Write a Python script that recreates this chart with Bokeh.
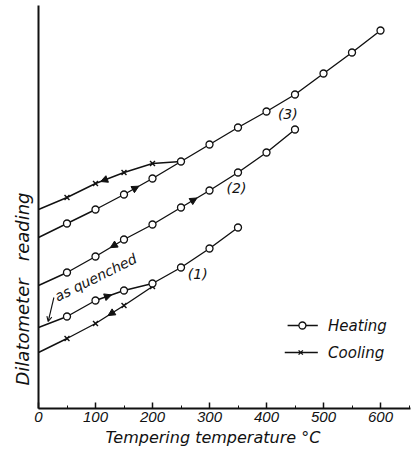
import numpy as np
from bokeh.plotting import figure
from bokeh.models import Label, Arrow, NormalHead, OpenHead, FixedTicker, Title
from bokeh.embed import file_html
from bokeh.resources import INLINE

# ---- data (reading in arbitrary units) ----
temps3_heat = [0, 50, 100, 150, 200, 250, 300, 350, 400, 450, 500, 550, 600]
read3_heat = [17.1, 18.5, 19.9, 21.4, 23.0, 24.7, 26.4, 28.1, 29.7, 31.4, 33.5, 35.6, 37.8]
temps3_cool = [0, 50, 100, 150, 200, 250]
read3_cool = [19.9, 21.1, 22.5, 23.6, 24.5, 24.7]
temps2 = [0, 50, 100, 150, 200, 250, 300, 350, 400, 450]
read2 = [12.3, 13.6, 15.2, 16.9, 18.4, 20.1, 21.8, 23.6, 25.6, 27.9]
temps1_heat = [0, 50, 100, 150, 200, 250, 300, 350]
read1_heat = [8.1, 9.2, 10.8, 11.8, 12.5, 14.1, 16.0, 18.1]
temps1_cool = [0, 50, 100, 150, 200]
read1_cool = [5.6, 7.0, 8.5, 10.3, 12.2]

x_ticks = [0, 100, 200, 300, 400, 500, 600]
x_minor = [50, 150, 250, 350, 450, 550, 650]

FONT = "DejaVu Sans"
BLACK = "#111111"

p = figure(width=412, height=451, x_range=(0, 652.6), y_range=(0, 40.3),
           output_backend="svg", toolbar_location=None,
           min_border_left=38, min_border_right=2, min_border_top=5, min_border_bottom=43)
p.outline_line_color = None
p.grid.visible = False
p.background_fill_color = "white"

# axes
p.xaxis.ticker = FixedTicker(ticks=x_ticks, minor_ticks=x_minor)
p.xaxis.axis_line_width = 2
p.xaxis.axis_line_color = BLACK
p.xaxis.major_tick_in = 6
p.xaxis.major_tick_out = 0
p.xaxis.minor_tick_in = 3
p.xaxis.minor_tick_out = 0
p.xaxis.major_tick_line_width = 1.5
p.xaxis.major_tick_line_color = BLACK
p.xaxis.minor_tick_line_color = BLACK
p.xaxis.major_label_text_font = "Liberation Sans"
p.xaxis.major_label_text_font_style = "italic"
p.xaxis.major_label_text_font_size = "15px"
p.xaxis.major_label_text_color = BLACK
p.xaxis.major_label_standoff = 3

p.yaxis.ticker = FixedTicker(ticks=[])
p.yaxis.axis_line_width = 2
p.yaxis.axis_line_color = BLACK
p.yaxis.major_tick_in = 0
p.yaxis.major_tick_out = 0
p.yaxis.minor_tick_in = 0
p.yaxis.minor_tick_out = 0


def series(tx, ty, marker, mark_slice):
    p.line(tx, ty, line_color=BLACK, line_width=1.4)
    xs = tx[mark_slice]
    ys = ty[mark_slice]
    if marker == "circle":
        p.scatter(xs, ys, marker="circle", size=7, fill_color="white",
                  line_color=BLACK, line_width=1.3)
    else:
        p.scatter(xs, ys, marker="x", size=7, line_color=BLACK, line_width=1.4)


series(temps3_cool, read3_cool, "x", slice(1, 5))
series(temps3_heat, read3_heat, "circle", slice(1, None))
series(temps2, read2, "circle", slice(1, None))
series(temps1_cool, read1_cool, "x", slice(1, None))
series(temps1_heat, read1_heat, "circle", slice(1, None))


def arrow_on(tx, ty, t, direction):
    y0 = float(np.interp(t, tx, ty))
    t1 = t + direction * 6
    y1 = float(np.interp(t1, tx, ty))
    p.add_layout(Arrow(end=NormalHead(size=7, fill_color=BLACK, line_color=BLACK),
                       x_start=t, y_start=y0, x_end=t1, y_end=y1,
                       line_color=BLACK, line_width=1.2))


arrow_on(temps3_heat, read3_heat, 170, 1)
arrow_on(temps3_cool, read3_cool, 115, -1)
arrow_on(temps2, read2, 272, 1)
arrow_on(temps2, read2, 132, -1)
arrow_on(temps1_heat, read1_heat, 122, 1)
arrow_on(temps1_cool, read1_cool, 128, -1)

# "as quenched" annotation
p.add_layout(Label(x=36, y=10.4, text="as quenched", angle=0.46,
                   text_font=FONT, text_font_style="italic", text_font_size="14px",
                   text_color=BLACK, text_align="left", text_baseline="bottom"))
p.add_layout(Arrow(end=OpenHead(size=5, line_color=BLACK, line_width=1.1),
                   x_start=27, y_start=11.1, x_end=17, y_end=8.7,
                   line_color=BLACK, line_width=1.1))

# curve labels
for txt, lx, ly in [("(3)", 420, 29.5), ("(2)", 330, 22.1), ("(1)", 262, 13.5)]:
    p.add_layout(Label(x=lx, y=ly, text=txt, text_font=FONT, text_font_style="italic",
                       text_font_size="14px", text_color=BLACK,
                       text_align="left", text_baseline="middle"))

# legend (hand drawn)
p.line([437, 490], [8.3, 8.3], line_color=BLACK, line_width=1.4)
p.scatter([463], [8.3], marker="circle", size=7, fill_color="white", line_color=BLACK, line_width=1.3)
p.line([432, 490], [5.6, 5.6], line_color=BLACK, line_width=1.4)
p.scatter([460], [5.6], marker="x", size=6, line_color=BLACK, line_width=1.4)
for txt, ly in [("Heating", 8.3), ("Cooling", 5.6)]:
    p.add_layout(Label(x=508, y=ly, text=txt, text_font=FONT, text_font_style="italic",
                       text_font_size="15px", text_color=BLACK,
                       text_align="left", text_baseline="middle"))

# axis titles
p.add_layout(Title(text="Tempering temperature °C", align="left", offset=67, standoff=3,
                   text_font=FONT, text_font_style="italic", text_font_size="16px",
                   text_color=BLACK), "below")
p.add_layout(Title(text="Dilatometer\u00a0\u00a0 reading", align="left", offset=23, standoff=12,
                   text_font=FONT, text_font_style="italic", text_font_size="18px",
                   text_color=BLACK), "left")

open("out.html", "w").write(file_html(p, INLINE))
